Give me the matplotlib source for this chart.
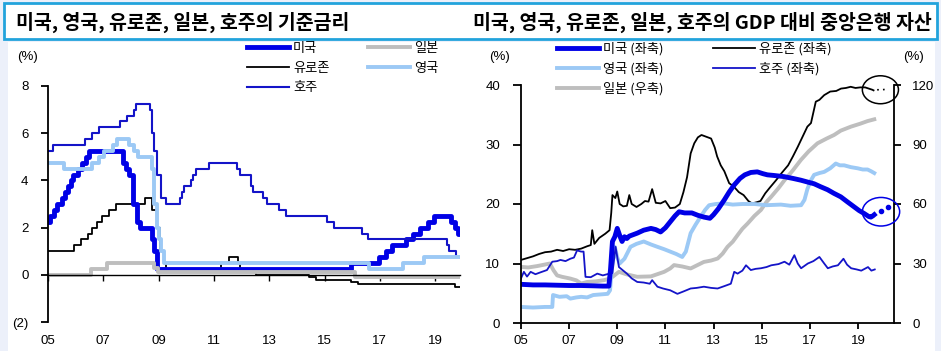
import matplotlib
matplotlib.use("Agg")
import matplotlib.pyplot as plt
from matplotlib.patches import Rectangle, Ellipse

W, H = 941, 351

# ---- left panel: policy rates (step data, change dates as decimal years) ----
us_rate_t = [2005.0, 2005.09, 2005.22, 2005.34, 2005.5, 2005.6, 2005.72, 2005.84, 2005.92, 2006.09,
             2006.24, 2006.36, 2006.49, 2007.71, 2007.83, 2007.94, 2008.06, 2008.08, 2008.21, 2008.33,
             2008.77, 2008.83, 2008.96, 2015.96, 2016.96, 2017.21, 2017.45, 2017.96, 2018.21, 2018.45,
             2018.73, 2018.96, 2019.58, 2019.72, 2019.83, 2019.9]
us_rate = [2.25, 2.5, 2.75, 3.0, 3.25, 3.5, 3.75, 4.0, 4.25, 4.5,
           4.75, 5.0, 5.25, 4.75, 4.5, 4.25, 3.5, 3.0, 2.25, 2.0,
           1.5, 1.0, 0.25, 0.5, 0.75, 1.0, 1.25, 1.5, 1.75, 2.0,
           2.25, 2.5, 2.25, 2.0, 1.75, 1.75]

ez_rate_t = [2005.0, 2005.93, 2006.19, 2006.45, 2006.6, 2006.78, 2006.95, 2007.2, 2007.45, 2008.52,
             2008.77, 2008.94, 2009.05, 2009.19, 2009.27, 2011.27, 2011.53, 2011.86, 2011.94, 2012.52,
             2014.44, 2014.69, 2015.94, 2016.2, 2019.71, 2019.9]
ez_rate = [1.0, 1.25, 1.5, 1.75, 2.0, 2.25, 2.5, 2.75, 3.0, 3.25,
           2.75, 2.0, 1.0, 0.5, 0.25, 0.5, 0.75, 0.5, 0.25, 0.0,
           -0.1, -0.2, -0.3, -0.4, -0.5, -0.5]

au_rate_t = [2005.0, 2005.17, 2006.35, 2006.6, 2006.85, 2007.6, 2007.85, 2008.1, 2008.18, 2008.68,
             2008.77, 2008.84, 2008.93, 2009.09, 2009.26, 2009.76, 2009.84, 2009.93, 2010.18, 2010.26,
             2010.34, 2010.84, 2011.84, 2011.93, 2012.34, 2012.43, 2012.76, 2012.93, 2013.34, 2013.6,
             2015.09, 2015.34, 2016.34, 2016.59, 2019.43, 2019.51, 2019.76, 2019.9]
au_rate = [5.25, 5.5, 5.75, 6.0, 6.25, 6.5, 6.75, 7.0, 7.25, 7.0,
           6.0, 5.25, 4.25, 3.25, 3.0, 3.25, 3.5, 3.75, 4.0, 4.25,
           4.5, 4.75, 4.5, 4.25, 3.75, 3.5, 3.25, 3.0, 2.75, 2.5,
           2.25, 2.0, 1.75, 1.5, 1.25, 1.0, 0.75, 0.75]

jp_rate_t = [2005.0, 2006.54, 2007.14, 2008.83, 2008.97, 2016.1, 2019.9]
jp_rate = [0.0, 0.25, 0.5, 0.3, 0.1, -0.1, -0.1]

uk_rate_t = [2005.0, 2005.59, 2006.59, 2006.86, 2007.03, 2007.36, 2007.51, 2007.93, 2008.11, 2008.27,
             2008.77, 2008.84, 2008.93, 2009.02, 2009.1, 2009.18, 2016.6, 2017.84, 2018.59, 2019.9]
uk_rate = [4.75, 4.5, 4.75, 5.0, 5.25, 5.5, 5.75, 5.5, 5.25, 5.0,
           4.5, 3.0, 2.0, 1.5, 1.0, 0.5, 0.25, 0.5, 0.75, 0.75]

# ---- right panel: central bank assets, % of GDP ----
ez_bs_t = [2005.0, 2005.25, 2005.5, 2005.75, 2006.0, 2006.25, 2006.5, 2006.75, 2007.0, 2007.25,
           2007.5, 2007.75, 2007.9, 2007.96, 2008.05, 2008.25, 2008.5, 2008.68, 2008.75, 2008.8,
           2008.92, 2009.0, 2009.1, 2009.25, 2009.4, 2009.5, 2009.6, 2009.8, 2010.0, 2010.15,
           2010.3, 2010.45, 2010.6, 2010.8, 2011.0, 2011.2, 2011.4, 2011.6, 2011.75, 2011.9,
           2012.05, 2012.2, 2012.35, 2012.5, 2012.7, 2012.9, 2013.05, 2013.15, 2013.3, 2013.45,
           2013.65, 2013.85, 2014.05, 2014.25, 2014.45, 2014.6, 2014.8, 2014.95, 2015.15, 2015.35,
           2015.6, 2015.85, 2016.1, 2016.3, 2016.5, 2016.7, 2016.9, 2017.05, 2017.25, 2017.4,
           2017.6, 2017.85, 2018.1, 2018.3, 2018.5, 2018.7, 2018.9, 2019.1, 2019.3, 2019.45,
           2019.6, 2019.65]
ez_bs = [10.6, 10.9, 11.2, 11.6, 11.9, 12.0, 12.3, 12.1, 12.4, 12.3,
         12.5, 12.9, 13.1, 15.6, 13.3, 14.3, 15.0, 15.6, 18.5, 21.5,
         21.0, 22.1, 20.0, 19.6, 19.7, 21.5, 20.0, 19.5, 20.0, 20.5,
         20.4, 22.5, 20.2, 20.1, 20.5, 19.3, 19.4, 20.0, 22.0, 24.5,
         28.5, 30.2, 31.2, 31.6, 31.3, 31.0, 29.5, 28.0, 26.5, 25.5,
         23.5, 22.9, 22.0, 21.5, 20.5, 20.1, 20.3, 20.5, 21.8, 22.8,
         24.0, 25.3, 26.5, 28.0, 29.6, 31.3, 33.0, 33.6, 37.2, 37.5,
         38.3, 38.9, 39.0, 39.4, 39.5, 39.7, 39.5, 39.6, 39.6, 39.4,
         39.2, 39.1]
ez_bs_proj_t = [2019.8, 2020.0, 2020.22]
ez_bs_proj = [39.2, 39.2, 39.3]

us_bs_t = [2005.0, 2005.5, 2006.0, 2006.5, 2007.0, 2007.5, 2008.0, 2008.4, 2008.65, 2008.72,
           2008.8, 2008.9, 2009.0, 2009.12, 2009.2, 2009.3, 2009.4, 2009.5, 2009.83, 2010.1,
           2010.4, 2010.6, 2010.8, 2011.0, 2011.2, 2011.4, 2011.57, 2011.8, 2012.1, 2012.35,
           2012.6, 2012.85, 2013.0, 2013.2, 2013.45, 2013.65, 2013.86, 2014.1, 2014.3, 2014.55,
           2014.82, 2015.05, 2015.24, 2015.5, 2015.93, 2016.3, 2016.63, 2016.9, 2017.18, 2017.45,
           2017.74, 2018.0, 2018.29, 2018.55, 2018.85, 2019.05, 2019.26, 2019.45, 2019.54, 2019.62,
           2019.68]
us_bs = [6.5, 6.4, 6.4, 6.35, 6.3, 6.3, 6.25, 6.2, 6.2, 9.0,
         13.7, 14.5, 15.9, 14.5, 13.7, 14.5, 14.2, 14.6, 15.1, 15.6,
         15.9, 15.7, 15.3, 16.0, 17.0, 18.0, 18.7, 18.5, 18.5, 18.1,
         17.8, 17.6, 18.2, 19.2, 20.7, 22.0, 23.2, 24.3, 24.9, 25.3,
         25.4, 25.1, 24.9, 24.8, 24.6, 24.3, 24.0, 23.7, 23.4, 22.9,
         22.4, 21.8, 21.2, 20.4, 19.5, 18.9, 18.4, 17.9, 17.8, 18.0,
         18.2]
us_bs_proj_t = [2019.96, 2020.24]
us_bs_proj = [18.9, 19.5]

uk_bs_t = [2005.0, 2005.5, 2006.0, 2006.3, 2006.33, 2006.6, 2006.9, 2007.05, 2007.3, 2007.5,
           2007.75, 2008.0, 2008.3, 2008.6, 2008.7, 2008.78, 2008.9, 2009.0, 2009.1, 2009.3,
           2009.55, 2009.8, 2010.1, 2010.4, 2010.67, 2010.95, 2011.2, 2011.45, 2011.7, 2011.85,
           2012.05, 2012.25, 2012.47, 2012.65, 2012.82, 2013.1, 2013.44, 2013.8, 2014.2, 2014.7,
           2015.2, 2015.8, 2016.2, 2016.64, 2016.78, 2016.9, 2017.05, 2017.18, 2017.4, 2017.6,
           2017.85, 2018.08, 2018.25, 2018.43, 2018.7, 2018.99, 2019.2, 2019.4, 2019.55, 2019.68]
uk_bs = [2.7, 2.6, 2.7, 2.7, 4.7, 4.4, 4.5, 4.1, 4.3, 4.4,
         4.3, 4.7, 4.8, 4.9, 5.5, 9.5, 12.8, 11.0, 10.0, 10.8,
         12.8, 13.3, 13.7, 13.2, 12.8, 12.4, 12.0, 11.6, 11.1, 12.0,
         15.1, 16.5, 17.9, 19.0, 19.8, 20.0, 20.1, 19.9, 20.0, 20.0,
         19.8, 19.9, 19.7, 19.8, 20.7, 22.5, 24.0, 24.9, 25.2, 25.4,
         26.0, 26.8, 26.5, 26.5, 26.2, 26.0, 25.8, 25.8, 25.5, 25.2]

au_bs_t = [2005.0, 2005.12, 2005.25, 2005.4, 2005.6, 2005.8, 2006.08, 2006.3, 2006.5, 2006.64,
           2006.85, 2007.05, 2007.2, 2007.33, 2007.5, 2007.6, 2007.68, 2007.9, 2008.17, 2008.4,
           2008.58, 2008.8, 2008.93, 2009.07, 2009.25, 2009.4, 2009.6, 2009.83, 2010.1, 2010.35,
           2010.45, 2010.67, 2010.9, 2011.2, 2011.5, 2011.75, 2012.05, 2012.3, 2012.6, 2012.9,
           2013.17, 2013.45, 2013.72, 2013.86, 2014.0, 2014.2, 2014.35, 2014.55, 2014.75, 2014.97,
           2015.2, 2015.4, 2015.7, 2015.95, 2016.15, 2016.36, 2016.5, 2016.64, 2016.92, 2017.15,
           2017.4, 2017.6, 2017.75, 2017.95, 2018.17, 2018.4, 2018.55, 2018.72, 2018.95, 2019.14,
           2019.42, 2019.56, 2019.7]
au_bs = [7.5, 8.6, 7.8, 8.6, 8.2, 8.5, 8.9, 10.3, 10.4, 10.6,
         10.4, 10.8, 11.0, 12.2, 12.0, 12.0, 7.75, 7.7, 8.3, 8.0,
         8.2, 8.4, 12.8, 9.4, 8.8, 8.3, 7.5, 6.9, 6.8, 6.6,
         7.2, 6.1, 5.8, 5.5, 4.9, 5.3, 5.8, 5.9, 6.1, 5.9,
         5.8, 6.2, 6.6, 8.6, 8.3, 8.8, 9.7, 8.9, 9.1, 9.2,
         9.4, 9.7, 9.9, 10.3, 9.8, 11.4, 10.0, 9.2, 10.0, 10.4,
         11.1, 10.0, 9.2, 9.5, 9.7, 10.8, 9.8, 9.2, 9.0, 8.8,
         9.4, 8.8, 9.0]

# Japan on the right axis
jp_bs_t = [2005.0, 2005.3, 2005.67, 2006.0, 2006.2, 2006.35, 2006.5, 2006.7, 2007.05, 2007.3,
           2007.5, 2007.75, 2008.1, 2008.45, 2008.72, 2009.07, 2009.4, 2009.83, 2010.4, 2010.95,
           2011.2, 2011.36, 2011.7, 2012.05, 2012.3, 2012.6, 2012.9, 2013.17, 2013.38, 2013.58,
           2013.8, 2014.0, 2014.2, 2014.42, 2014.7, 2014.97, 2015.2, 2015.4, 2015.7, 2015.95,
           2016.3, 2016.63, 2016.95, 2017.32, 2017.7, 2018.01, 2018.29, 2018.71, 2019.1, 2019.4,
           2019.68]
jp_bs = [28.3, 28.0, 28.7, 29.5, 30.0, 26.6, 24.0, 23.3, 22.4, 21.5,
         19.9, 20.7, 21.0, 21.6, 22.5, 25.8, 24.5, 23.3, 23.5, 25.8,
         27.5, 29.2, 28.5, 27.5, 29.0, 30.8, 31.5, 32.5, 35.0, 38.4,
         41.0, 44.3, 47.5, 50.2, 54.0, 57.0, 61.0, 63.7, 68.0, 72.0,
         77.0, 82.2, 86.5, 90.6, 93.0, 94.8, 97.0, 99.0, 100.5, 101.8,
         102.7]

years = [2005, 2007, 2009, 2011, 2013, 2015, 2017, 2019]
year_labels = ['05', '07', '09', '11', '13', '15', '17', '19']

BLUE = '#0000E6'
AUS = '#1414C8'
SKY = '#9CC9F5'
GRAY = '#BEBEBE'

plt.rcParams['font.family'] = ['Liberation Sans', 'Noto Sans CJK KR', 'DejaVu Sans']
plt.rcParams['axes.linewidth'] = 1.3
kr = ['Noto Sans CJK KR', 'DejaVu Sans']

fig = plt.figure(figsize=(W / 100, H / 100), dpi=100)
fig.patch.set_facecolor('#ECF0FA')
fig.add_artist(Rectangle((8 / W, 0), 927 / W, 309 / H, transform=fig.transFigure,
                         facecolor='white', edgecolor='none', zorder=0))

# title strip
fig.add_artist(Rectangle((4 / W, 1 - 39 / H), 933 / W, 36 / H, transform=fig.transFigure,
                         facecolor='white', edgecolor='#22A3DC', linewidth=2, zorder=1))
fig.text(16 / W, 1 - 22 / H, '미국, 영국, 유로존, 일본, 호주의 기준금리', family=kr,
         fontsize=14, fontweight='bold', va='center', ha='left')
fig.text(932 / W, 1 - 22 / H, '미국, 영국, 유로존, 일본, 호주의 GDP 대비 중앙은행 자산', family=kr,
         fontsize=14, fontweight='bold', va='center', ha='right')

# ---------------- left: policy rates ----------------
ax1 = fig.add_axes([48 / W, 1 - 322 / H, 412 / W, 236 / H])
ax1.set_xlim(2005, 2019.9)
ax1.set_ylim(-2, 8)
l_ez, = ax1.step(ez_rate_t, ez_rate, where='post', color='black', lw=1.3, label='유로존')
l_us, = ax1.step(us_rate_t, us_rate, where='post', color=BLUE, lw=3.5, label='미국')
l_jp, = ax1.step(jp_rate_t, jp_rate, where='post', color=GRAY, lw=2.8, label='일본')
l_au, = ax1.step(au_rate_t, au_rate, where='post', color=AUS, lw=1.5, label='호주')
l_uk, = ax1.step(uk_rate_t, uk_rate, where='post', color=SKY, lw=2.8, label='영국')

ax1.spines['top'].set_visible(False)
ax1.spines['right'].set_visible(False)
ax1.spines['bottom'].set_position(('data', 0))
ax1.spines['bottom'].set_linewidth(1.0)
ax1.set_xticks(years)
ax1.tick_params(axis='x', direction='out', length=4, width=1, labelbottom=False)
ax1.set_yticks([-2, 0, 2, 4, 6, 8], labels=['(2)', '0', '2', '4', '6', '8'])
ax1.tick_params(axis='y', direction='out', length=5, width=1.3, pad=9, labelsize=9.5)
sec1 = ax1.secondary_xaxis('bottom')
sec1.set_xticks(years, labels=year_labels)
sec1.tick_params(length=0, pad=9, labelsize=9.5)
sec1.spines['bottom'].set_visible(False)
fig.text(28 / W, 1 - 57 / H, '(%)', fontsize=9.5, ha='center', va='center')

ax1.legend([l_us, l_ez, l_au, l_jp, l_uk], ['미국', '유로존', '호주', '일본', '영국'],
           ncol=2, loc='upper left', bbox_to_anchor=(247 / W, 1 - 42 / H),
           bbox_transform=fig.transFigure, frameon=False, borderpad=0, borderaxespad=0,
           handlelength=3.2, handletextpad=0.3, columnspacing=2.9, labelspacing=0.5,
           prop={'family': kr, 'size': 9.5})

# ---------------- right: balance sheets ----------------
ax2 = fig.add_axes([521 / W, 1 - 323 / H, 373 / W, 238 / H])
ax2r = ax2.twinx()
ax2.set_zorder(ax2r.get_zorder() + 1)
ax2.patch.set_visible(False)
ax2.set_xlim(2005, 2020.5)
ax2.set_ylim(0, 40)
ax2r.set_ylim(0, 120)

r_jp, = ax2r.plot(jp_bs_t, jp_bs, color=GRAY, lw=2.8, label='일본 (우축)')
r_ez, = ax2.plot(ez_bs_t, ez_bs, color='black', lw=1.3, label='유로존 (좌축)')
ax2.plot(ez_bs_proj_t, ez_bs_proj, color='black', lw=1.2, ls=(0, (1, 2.5)))
r_uk, = ax2.plot(uk_bs_t, uk_bs, color=SKY, lw=2.8, label='영국 (좌축)')
r_au, = ax2.plot(au_bs_t, au_bs, color=AUS, lw=1.3, label='호주 (좌축)')
r_us, = ax2.plot(us_bs_t, us_bs, color=BLUE, lw=3.5, label='미국 (좌축)')
ax2.plot(us_bs_proj_t, us_bs_proj, color=BLUE, lw=0, marker='o', ms=3)

# circles around the latest readings
ez_mid = (ez_bs_t[-1] + ez_bs_proj_t[-1]) / 2
ax2.add_patch(Ellipse((ez_mid, ez_bs_proj[0]), 1.5, 4.7, fill=False, edgecolor='black',
                      lw=1.1, clip_on=False, zorder=5))
us_mid = (us_bs_t[-1] + us_bs_proj_t[-1]) / 2
ax2.add_patch(Ellipse((us_mid, us_bs_proj[0] - 0.2), 1.55, 4.8, fill=False, edgecolor=BLUE,
                      lw=1.1, clip_on=False, zorder=5))

for a in (ax2, ax2r):
    a.spines['top'].set_visible(False)
ax2.spines['right'].set_visible(False)
ax2r.spines['left'].set_visible(False)
ax2r.spines['bottom'].set_visible(False)
ax2.spines['bottom'].set_linewidth(1.3)
ax2.set_xticks(years, labels=year_labels)
ax2.tick_params(axis='x', direction='out', length=4, width=1.3, pad=5, labelsize=9.5)
ax2.set_yticks([0, 10, 20, 30, 40])
ax2.tick_params(axis='y', direction='out', length=6, width=1.3, pad=9, labelsize=9.5)
ax2r.set_yticks([0, 30, 60, 90, 120])
ax2r.tick_params(axis='y', direction='out', length=5, width=1.3, pad=8, labelsize=9.5)
fig.text(500 / W, 1 - 57 / H, '(%)', fontsize=9.5, ha='center', va='center')
fig.text(913 / W, 1 - 57 / H, '(%)', fontsize=9.5, ha='center', va='center')

ax2.legend([r_us, r_uk, r_jp, r_ez, r_au],
           ['미국 (좌축)', '영국 (좌축)', '일본 (우축)', '유로존 (좌축)', '호주 (좌축)'],
           ncol=2, loc='upper left', bbox_to_anchor=(557 / W, 1 - 42 / H),
           bbox_transform=fig.transFigure, frameon=False, borderpad=0, borderaxespad=0,
           handlelength=3.2, handletextpad=0.3, columnspacing=3.7, labelspacing=0.5,
           prop={'family': kr, 'size': 9.5})

fig.savefig('out.png', dpi=100, facecolor=fig.get_facecolor())
